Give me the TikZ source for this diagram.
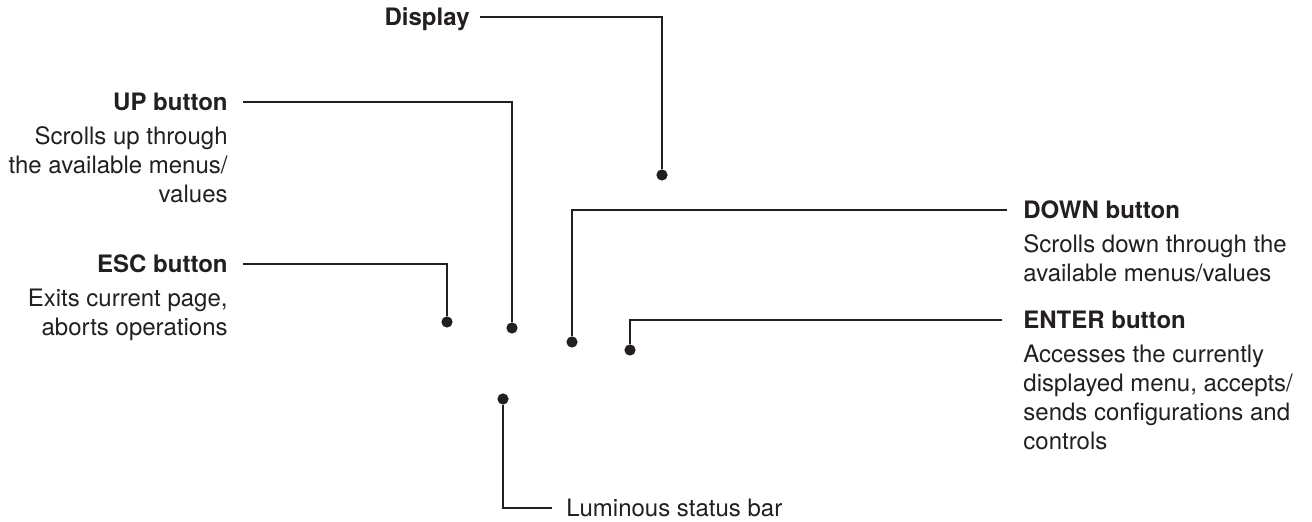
\documentclass[tikz,border=0pt]{standalone}
\usepackage{fontspec}
\setmainfont{TeX Gyre Heros}
\usepackage{xcolor}
\usepackage{tikz}
\usetikzlibrary{positioning}
\definecolor{inkdark}{RGB}{35,31,32}
\tikzset{
  btntitle/.style={font=\fontsize{12}{14.5}\selectfont\bfseries, text=inkdark,
    inner sep=0pt, text height=8.6pt, text depth=0pt},
  btntext/.style={font=\fontsize{12}{14.5}\selectfont, text=inkdark,
    inner sep=0pt},
  hotspot/.style={circle, fill=inkdark, inner sep=0pt, minimum size=5.6pt},
  leader/.style={line width=1.25pt, color=inkdark}
}

\begin{document}
\begin{tikzpicture}[x=0.5pt, y=-0.5pt]
    \useasboundingbox (0,0) rectangle (1312,522);
    % Display
    \node[btntitle, anchor=east] (disp) at (470,17) {Display};
    \node[hotspot] (dispdot) at (662,175) {};
    \draw[leader, shorten <=5pt] (disp.east) -| (dispdot);
    % UP button
    \node[btntitle, anchor=east] (up) at (228,102) {UP button};
    \node[btntext, align=right, below=7.7pt of up.south east, anchor=north east] (uptext)
      {Scrolls up through\\the available menus/\\values};
    \node[hotspot] (updot) at (512,328) {};
    \draw[leader, shorten <=7.5pt] (up.east) -| (updot);
    % ESC button
    \node[btntitle, anchor=east] (esc) at (228,264) {ESC button};
    \node[btntext, align=right, below=7.7pt of esc.south east, anchor=north east] (esctext)
      {Exits current page,\\aborts operations};
    \node[hotspot] (escdot) at (447,322) {};
    \draw[leader, shorten <=7.5pt] (esc.east) -| (escdot);
    % DOWN button
    \node[btntitle, anchor=west] (down) at (1023,210) {DOWN button};
    \node[btntext, align=left, below=7.7pt of down.south west, anchor=north west] (downtext)
      {Scrolls down through the\\available menus/values};
    \node[hotspot] (downdot) at (572,342) {};
    \draw[leader, shorten >=8pt] (downdot) |- (down.west);
    % ENTER button
    \node[btntitle, anchor=west] (enter) at (1023,320) {ENTER button};
    \node[btntext, align=left, below=7.7pt of enter.south west, anchor=north west] (entertext)
      {Accesses the currently\\displayed menu, accepts/\\sends configurations and\\controls};
    \node[hotspot] (enterdot) at (630,350) {};
    \draw[leader, shorten >=10.5pt] (enterdot) |- (enter.west);
    % Luminous status bar
    \node[btntext, anchor=west, text height=8.6pt, text depth=0pt] (lum) at (566,508)
      {Luminous status bar};
    \node[hotspot] (lumdot) at (503,399) {};
    \draw[leader, shorten >=7pt] (lumdot) |- (lum.west);
\end{tikzpicture}
\end{document}
